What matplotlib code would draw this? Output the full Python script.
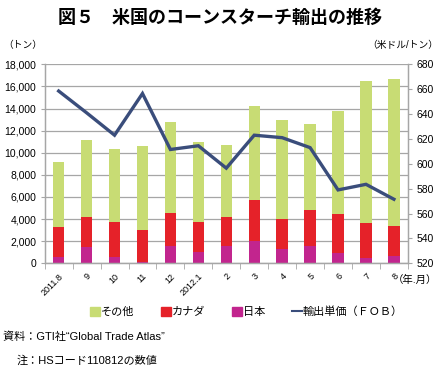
import numpy as np
import matplotlib
matplotlib.use("Agg")
import matplotlib.pyplot as plt
from matplotlib.patches import Patch
from matplotlib.lines import Line2D

plt.rcParams['font.family'] = ['Liberation Sans', 'Noto Sans CJK JP', 'DejaVu Sans']

# data
months = ["2011.8", "9", "10", "11", "12", "2012.1", "2", "3", "4", "5", "6", "7", "8"]
japan = [600, 1450, 600, 120, 1540, 1030, 1570, 2050, 1270, 1600, 960, 510, 690]
canada = [2700, 2710, 3110, 2860, 3010, 2710, 2590, 3680, 2740, 3220, 3500, 3140, 2690]
others = [5900, 6990, 6600, 7630, 8200, 7200, 6540, 8470, 8990, 7750, 9290, 12810, 13260]
price = [658.5, 641, 623, 656.5, 611.5, 614.5, 596.5, 623, 621, 613, 579, 583.5, 571.5]

c_other = "#c8dc74"
c_canada = "#e52229"
c_japan = "#c2258e"
c_line = "#3a4d7b"
grid_c = "#a6a6a6"

x = np.arange(len(months))
japan = np.array(japan)
canada = np.array(canada)
others = np.array(others)

fig = plt.figure(figsize=(4.4, 3.71), dpi=100)
ax = fig.add_axes([0.1016, 0.2903, 0.8254, 0.5364])
ax2 = ax.twinx()

w = 0.41
ax.bar(x, japan, w, color=c_japan, edgecolor="none")
ax.bar(x, canada, w, bottom=japan, color=c_canada, edgecolor="none")
ax.bar(x, others, w, bottom=japan + canada, color=c_other, edgecolor="none")

ax.set_ylim(0, 18000)
ax.set_xlim(-0.5, len(months) - 0.5)
ax.set_yticks(np.arange(0, 18001, 2000))
ax.set_yticklabels([f"{v:,}" for v in range(0, 18001, 2000)], fontsize=7.5)
ax.set_axisbelow(True)
ax.grid(axis="y", color=grid_c, linewidth=0.9)

ax2.plot(x, price, color=c_line, linewidth=2.4, solid_joinstyle="miter")
ax2.set_ylim(520, 680)
ax2.set_yticks(np.arange(520, 681, 20))
ax2.tick_params(axis="y", labelsize=7.5, length=3, color=grid_c, pad=3)

ax.set_xticks(x)
ax.set_xticklabels(months, rotation=45, ha="right", va="top", fontsize=6.5,
                   rotation_mode="anchor")
ax.set_xticks(np.arange(-0.5, len(months), 1), minor=True)
ax.tick_params(axis="x", which="major", length=0, pad=6)
ax.tick_params(axis="x", which="minor", length=4, color=grid_c)
ax.tick_params(axis="y", length=3, color=grid_c, pad=3)

for a in (ax, ax2):
    a.spines["top"].set_visible(False)
    for s in ("left", "right", "bottom"):
        a.spines[s].set_color(grid_c)
        a.spines[s].set_linewidth(0.9)

fig.text(0.5, 0.951, "図５　米国のコーンスターチ輸出の推移", ha="center", va="center",
         fontsize=13, fontweight="bold")
fig.text(0.007, 0.878, "（トン）", ha="left", va="center", fontsize=7)
fig.text(0.995, 0.878, "（米ドル/トン）", ha="right", va="center", fontsize=7)
fig.text(0.993, 0.245, "（年.月）", ha="right", va="center", fontsize=7.5)

handles = [Patch(color=c_other), Patch(color=c_canada), Patch(color=c_japan),
           Line2D([], [], color=c_line, linewidth=1.5)]
labels = ["その他", "カナダ", "日本", "輸出単価（ＦＯＢ）"]
fig.legend(handles, labels, loc="center", bbox_to_anchor=(0.56, 0.16), ncol=4,
           frameon=False, fontsize=8, handlelength=0.9, handleheight=0.9,
           handletextpad=0.1, columnspacing=2.4)

fig.text(0.007, 0.092, "資料：GTI社“Global Trade Atlas”", ha="left", va="center", fontsize=8)
fig.text(0.038, 0.027, "注：HSコード110812の数値", ha="left", va="center", fontsize=8)

fig.savefig("out.png", dpi=100)
